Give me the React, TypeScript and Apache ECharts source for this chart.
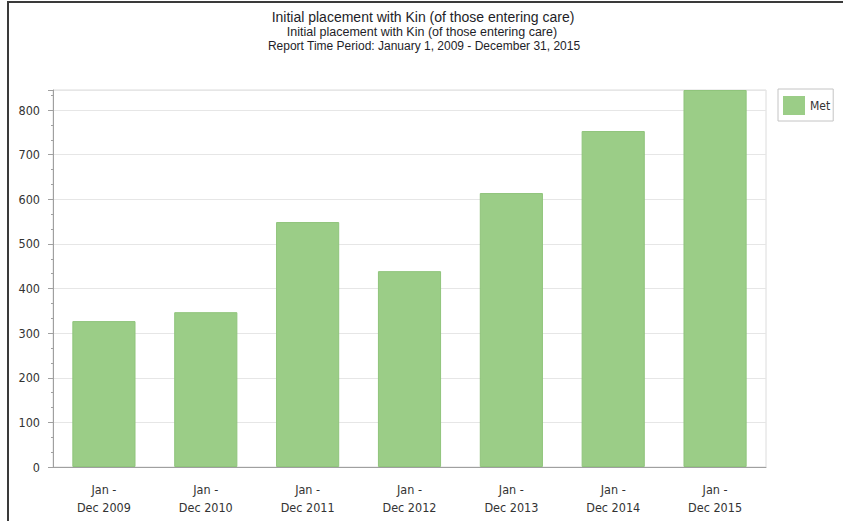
import React, { useEffect, useRef } from "react";
import * as echarts from "echarts";

const categories = [
  "Jan -\nDec 2009",
  "Jan -\nDec 2010",
  "Jan -\nDec 2011",
  "Jan -\nDec 2012",
  "Jan -\nDec 2013",
  "Jan -\nDec 2014",
  "Jan -\nDec 2015",
];
const metValues = [327, 347, 549, 439, 614, 753, 845];
const seriesName = "Met";
const titleLines = [
  "Initial placement with Kin (of those entering care)",
  "Initial placement with Kin (of those entering care)",
  "Report Time Period: January 1, 2009 - December 31, 2015",
];
const yMax = 845;
const yInterval = 100;
const minorPerCategory = 5;

export default function App() {
  const ref = useRef<HTMLDivElement>(null);
  useEffect(() => {
    if (!ref.current) return;
    const chart = echarts.init(ref.current, null, { renderer: "svg" });
    const minorCats = Array.from({ length: categories.length * minorPerCategory }, () => "");
    const labelFont = "'DejaVu Sans Condensed', 'DejaVu Sans', sans-serif";
    chart.setOption({
      animation: false,
      backgroundColor: "#ffffff",
      grid: {
        left: 53,
        right: 77,
        top: 90,
        bottom: 54,
        show: true,
        borderColor: "#dcdcdc",
        borderWidth: 1,
        backgroundColor: "transparent",
      },
      legend: {
        left: 778,
        top: 89,
        orient: "vertical",
        padding: [7, 3, 6, 5],
        itemWidth: 22,
        itemHeight: 19,
        borderColor: "#c4c4c4",
        borderWidth: 1,
        backgroundColor: "#ffffff",
        itemStyle: { borderWidth: 0 },
        textStyle: { fontFamily: labelFont, fontSize: 12, color: "#333" },
        data: [{ name: seriesName, icon: "rect" }],
      },
      xAxis: [
        {
          type: "category",
          data: categories,
          axisLine: { lineStyle: { color: "#a0a0a0" } },
          axisTick: { alignWithLabel: true, length: 6, lineStyle: { color: "#a0a0a0" } },
          axisLabel: {
            fontFamily: labelFont,
            fontSize: 12.5,
            color: "#333",
            lineHeight: 18,
            margin: 13,
            interval: 0,
          },
          splitLine: { show: false },
        },
        {
          type: "category",
          data: minorCats,
          position: "bottom",
          axisLine: { show: false },
          axisTick: { alignWithLabel: true, length: 3, interval: 0, lineStyle: { color: "#a0a0a0" } },
          axisLabel: { show: false },
          splitLine: { show: false },
        },
      ],
      yAxis: {
        type: "value",
        min: 0,
        max: yMax,
        interval: yInterval,
        axisLine: { show: true, lineStyle: { color: "#a0a0a0" } },
        axisTick: { show: true, length: 5, lineStyle: { color: "#a0a0a0" } },
        minorTick: { show: true, splitNumber: 3, length: 2, lineStyle: { color: "#a0a0a0" } },
        axisLabel: {
          fontFamily: labelFont,
          fontSize: 12.5,
          color: "#333",
          margin: 13,
          showMaxLabel: false,
        },
        splitLine: { show: true, lineStyle: { color: "#e6e6e6" } },
      },
      series: [
        {
          name: seriesName,
          type: "bar",
          data: metValues,
          barCategoryGap: "38%",
          itemStyle: { color: "#9bcd87", borderColor: "#8fc47b", borderWidth: 1 },
        },
      ],
      graphic: [
        {
          type: "text",
          x: 423,
          y: 17,
          style: {
            text: titleLines[0],
            font: "14px 'Liberation Sans', Arial, sans-serif",
            fill: "#1e1e28",
            textAlign: "center",
            textVerticalAlign: "middle",
          },
        },
        {
          type: "text",
          x: 422,
          y: 32,
          style: {
            text: titleLines[1],
            font: "12.5px 'Liberation Sans Narrow', 'Liberation Sans', Arial, sans-serif",
            fill: "#1e1e28",
            textAlign: "center",
            textVerticalAlign: "middle",
          },
        },
        {
          type: "text",
          x: 424,
          y: 46,
          style: {
            text: titleLines[2],
            font: "12px 'Liberation Sans', Arial, sans-serif",
            fill: "#1e1e28",
            textAlign: "center",
            textVerticalAlign: "middle",
          },
        },
        {
          type: "line",
          shape: { x1: 7, y1: 2, x2: 843, y2: 2 },
          style: { stroke: "#3a3a3a", lineWidth: 2 },
        },
        {
          type: "line",
          shape: { x1: 8, y1: 1, x2: 8, y2: 521 },
          style: { stroke: "#3a3a3a", lineWidth: 2 },
        },
      ],
    });
    return () => chart.dispose();
  }, []);
  return (
    <div
      ref={ref}
      style={{ position: "fixed", left: 0, top: 0, width: 843, height: 521 }}
    />
  );
}
